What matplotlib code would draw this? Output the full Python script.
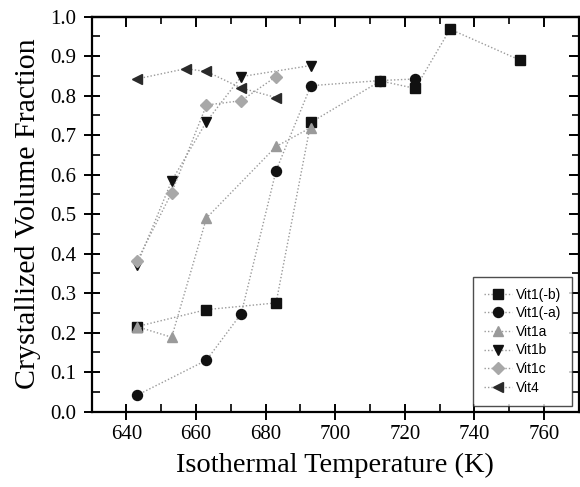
import matplotlib
matplotlib.use("Agg")
import matplotlib.pyplot as plt
from matplotlib.ticker import MultipleLocator

# Data
vit1b_neg_T = [643, 663, 683, 693, 713, 723, 733, 753]
vit1b_neg_f = [0.215, 0.258, 0.275, 0.732, 0.837, 0.818, 0.968, 0.890]

vit1a_neg_T = [643, 663, 673, 683, 693, 713, 723]
vit1a_neg_f = [0.041, 0.130, 0.248, 0.610, 0.825, 0.838, 0.842]

vit1a_T = [643, 653, 663, 683, 693]
vit1a_f = [0.215, 0.188, 0.490, 0.671, 0.719]

vit1bb_T = [643, 653, 663, 673, 693]
vit1bb_f = [0.371, 0.584, 0.734, 0.848, 0.876]

vit1c_T = [643, 653, 663, 673, 683]
vit1c_f = [0.380, 0.554, 0.776, 0.787, 0.848]

vit4_T = [643, 657, 663, 673, 683]
vit4_f = [0.842, 0.868, 0.861, 0.819, 0.795]

labels = ["Vit1(-b)", "Vit1(-a)", "Vit1a", "Vit1b", "Vit1c", "Vit4"]

fig = plt.figure(figsize=(5.8, 4.87), dpi=100)
ax = fig.add_axes([0.158, 0.155, 0.84, 0.811])

line_kw = dict(linestyle=(0, (1, 1.5)), color="#9a9a9a", linewidth=1.0)
series = [
    (vit1b_neg_T, vit1b_neg_f, "s", "#111111", 7),
    (vit1a_neg_T, vit1a_neg_f, "o", "#111111", 7.2),
    (vit1a_T, vit1a_f, "^", "#9a9a9a", 7.8),
    (vit1bb_T, vit1bb_f, "v", "#111111", 7.8),
    (vit1c_T, vit1c_f, "D", "#a8a8a8", 6.5),
    (vit4_T, vit4_f, "<", "#2a2a2a", 7.8),
]
for (T, f, m, c, ms), lab in zip(series, labels):
    ax.plot(T, f, marker=m, markerfacecolor=c, markeredgecolor=c,
            markersize=ms, label=lab, **line_kw)

ax.set_xlim(630, 770)
ax.set_ylim(0.0, 1.0)
ax.xaxis.set_major_locator(MultipleLocator(20))
ax.xaxis.set_minor_locator(MultipleLocator(10))
ax.yaxis.set_major_locator(MultipleLocator(0.1))
ax.yaxis.set_minor_locator(MultipleLocator(0.05))
ax.yaxis.set_major_formatter(matplotlib.ticker.FormatStrFormatter("%.1f"))

serif = "Liberation Serif"
for s in ax.spines.values():
    s.set_linewidth(1.6)
ax.tick_params(which="major", direction="inout", length=12, width=1.4,
               labelsize=15, pad=4)
ax.tick_params(axis="y", which="major", pad=5)
ax.tick_params(which="minor", direction="in", length=6, width=1.2)
for t in ax.get_xticklabels() + ax.get_yticklabels():
    t.set_fontfamily(serif)

secx = ax.secondary_xaxis("top")
secx.xaxis.set_major_locator(MultipleLocator(20))
secx.xaxis.set_minor_locator(MultipleLocator(10))
secx.tick_params(which="major", direction="in", length=7, width=1.4, labeltop=False)
secx.tick_params(which="minor", direction="in", length=5, width=1.2)
secx.spines["top"].set_linewidth(1.6)
secy = ax.secondary_yaxis("right")
secy.yaxis.set_major_locator(MultipleLocator(0.1))
secy.yaxis.set_minor_locator(MultipleLocator(0.05))
secy.tick_params(which="major", direction="in", length=7, width=1.4, labelright=False)
secy.tick_params(which="minor", direction="in", length=5, width=1.2)

ax.set_xlabel("Isothermal Temperature (K)", fontfamily=serif, fontsize=20.5, labelpad=6)
ax.set_ylabel("Crystallized Volume Fraction", fontfamily=serif, fontsize=21.5, labelpad=7)

leg = ax.legend(loc="lower right", bbox_to_anchor=(0.995, 0.004),
                prop={"family": "Liberation Sans", "size": 10},
                frameon=True, fancybox=False, edgecolor="#222222",
                handlelength=2.0, borderpad=0.8, labelspacing=0.33,
                handletextpad=0.3, borderaxespad=0.3)
leg.get_frame().set_linewidth(1.0)

fig.savefig("out.png", dpi=100)
